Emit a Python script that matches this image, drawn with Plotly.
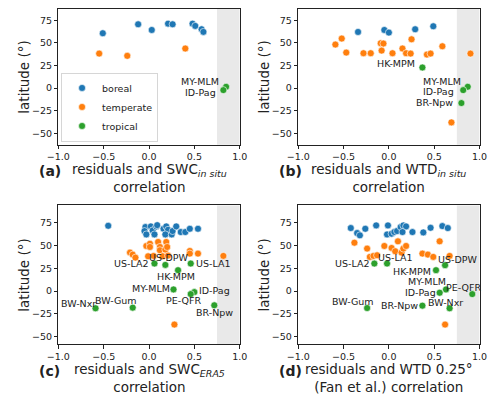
import plotly.graph_objects as go

# ---- (a) residuals vs SWC in situ ----
a_boreal_x = [-0.51, -0.12, 0.03, 0.21, 0.26, 0.48, 0.51, 0.58, 0.60]
a_boreal_y = [60.7, 70.6, 64.3, 71.3, 70.6, 71.3, 68.8, 65.1, 62.2]
a_temperate_x = [-0.55, -0.24, 0.40]
a_temperate_y = [38.2, 35.7, 43.8]
a_sites = ["MY-MLM", "ID-Pag"]
a_tropical_x = [0.85, 0.82]
a_tropical_y = [1.5, -2.2]

# ---- (b) residuals vs WTD in situ ----
b_boreal_x = [-0.34, -0.05, 0.00, 0.29, 0.49]
b_boreal_y = [62.1, 64.3, 61.4, 65.1, 68.4]
b_temperate_x = [-0.59, -0.52, -0.47, -0.28, -0.20, -0.09, -0.06, -0.08, 0.04,
                 0.15, 0.19, 0.24, 0.25, 0.42, 0.46, 0.59, 0.90, 0.69]
b_temperate_y = [48.2, 54.8, 39.3, 38.6, 38.6, 49.6, 49.3, 41.5, 38.6,
                 43.8, 38.6, 38.2, 54.0, 37.1, 38.2, 46.3, 38.2, -37.9]
b_sites = ["HK-MPM", "MY-MLM", "ID-Pag", "BR-Npw"]
b_tropical_x = [0.37, 0.87, 0.82, 0.80]
b_tropical_y = [22.8, 1.5, -2.2, -16.5]

# ---- (c) residuals vs SWC ERA5 ----
c_boreal_x = [-0.45, -0.04, -0.05, -0.03, 0.02, 0.04, 0.06, 0.08, 0.09, 0.16,
              0.19, 0.21, 0.18, 0.25, 0.26, 0.30, 0.35, 0.40, 0.45, 0.54]
c_boreal_y = [71.7, 70.3, 65.9, 62.2, 71.0, 66.6, 62.2, 71.0, 72.4, 68.4,
              71.0, 67.3, 62.2, 62.2, 65.9, 71.0, 64.8, 64.8, 68.4, 68.4]
c_temperate_x = [-0.21, -0.18, -0.15, -0.03, 0.01, 0.01, -0.01, 0.05, 0.10, 0.12,
                 0.12, 0.18, 0.19, 0.20, 0.15, 0.21, 0.45, 0.45, 0.54, 0.82, 0.28]
c_temperate_y = [42.2, 40.0, 36.7, 49.5, 52.0, 48.4, 38.2, 38.6, 53.9, 48.4,
                 44.8, 45.5, 53.9, 48.4, 38.2, 38.9, 44.0, 41.1, 41.1, 38.6, -36.9]
c_sites = ["US-LA2", "US-DPW", "US-LA1", "HK-MPM", "MY-MLM",
           "ID-Pag", "PE-QFR", "BR-Npw", "BW-Nxr", "BW-Gum"]
c_tropical_x = [0.06, 0.18, 0.46, 0.32, 0.27, 0.50, 0.46, 0.72, -0.59, -0.18]
c_tropical_y = [30.2, 28.7, 30.2, 22.9, 1.7, -1.2, -3.4, -15.7, -19.0, -18.3]

# ---- (d) residuals vs WTD 0.25 deg (Fan et al.) ----
d_boreal_x = [-0.42, -0.35, -0.32, -0.26, -0.14, -0.01, -0.02, 0.03, 0.06, 0.09,
              0.13, 0.16, 0.19, 0.15, 0.26, 0.38, 0.46, 0.59, 0.65]
d_boreal_y = [69.2, 63.7, 61.2, 68.4, 72.1, 72.1, 62.2, 63.0, 64.8, 65.9,
              70.3, 72.1, 71.0, 64.8, 64.8, 64.4, 69.5, 71.4, 69.2]
d_temperate_x = [-0.38, -0.24, -0.21, -0.17, -0.13, -0.05, 0.03, 0.07, 0.10,
                 0.14, 0.16, 0.19, 0.37, 0.43, 0.49, 0.56, 0.67, 0.62]
d_temperate_y = [53.1, 46.6, 37.5, 38.6, 39.3, 49.5, 47.3, 43.7, 54.6,
                 42.2, 46.6, 49.5, 41.1, 40.0, 37.5, 54.6, 38.6, -36.9]
d_sites = ["US-LA2", "US-LA1", "US-DPW", "HK-MPM", "MY-MLM",
           "ID-Pag", "PE-QFR", "BW-Gum", "BR-Npw", "BW-Nxr"]
d_tropical_x = [-0.16, -0.02, 0.62, 0.52, 0.63, 0.56, 0.92, -0.24, 0.37, 0.67]
d_tropical_y = [30.2, 30.2, 28.4, 22.9, 1.7, -1.9, -3.4, -18.7, -16.1, -19.0]

COLORS = {"boreal": "#1f77b4", "temperate": "#ff7f0e", "tropical": "#2ca02c"}
FONT = "DejaVu Sans"
TXT = "#222"

# label placement per site: (xanchor, xshift px, yshift px)
LABEL_POS = {
    "a": [("right", -5, 5), ("right", -5, -2)],
    "b": [("right", -5, 4), ("right", -5, 5), ("right", -7, -1), ("right", -6, 1)],
    "c": [("right", -4, 0), ("center", 3, 7), ("left", 3, 0), ("center", -2, -6),
          ("right", -2, 1), ("left", 3, 2), ("center", -7, -6), ("center", 0, -7),
          ("center", -17, 5), ("center", -17, 7)],
    "d": [("right", -3, 0), ("center", 8, 6), ("center", 12, 6), ("right", -3, -1),
          ("center", -19, 8), ("right", -2, 0), ("center", -9, 7), ("center", -14, 7),
          ("right", -2, 0), ("center", -4, 6)],
}

panels = [
    ("a", "x", "y", a_boreal_x, a_boreal_y, a_temperate_x, a_temperate_y,
     a_sites, a_tropical_x, a_tropical_y),
    ("b", "x2", "y2", b_boreal_x, b_boreal_y, b_temperate_x, b_temperate_y,
     b_sites, b_tropical_x, b_tropical_y),
    ("c", "x3", "y3", c_boreal_x, c_boreal_y, c_temperate_x, c_temperate_y,
     c_sites, c_tropical_x, c_tropical_y),
    ("d", "x4", "y4", d_boreal_x, d_boreal_y, d_temperate_x, d_temperate_y,
     d_sites, d_tropical_x, d_tropical_y),
]

xlabels = {
    "a": "residuals and SWC<sub><i>in situ</i></sub><br>correlation",
    "b": "residuals and WTD<sub><i>in situ</i></sub><br>correlation",
    "c": "residuals and SWC<sub><i>ERA5</i></sub><br>correlation",
    "d": "residuals and WTD 0.25°<br>(Fan et al.) correlation",
}

# the page body adds an 8px margin, so the figure is drawn 8px in and shrunk to fit
OFF = 8
W, H = 500 - OFF, 398 - OFF


def px(x):
    return (x - OFF) / W


def py(y):
    return 1 - (y - OFF) / H


fig = go.Figure()
annotations = []
shapes = []

for key, xa, ya, bx, by, tx, ty, sites, gx, gy in panels:
    first = key == "a"
    for name, xs, ys in [("boreal", bx, by), ("temperate", tx, ty), ("tropical", gx, gy)]:
        fig.add_trace(go.Scatter(
            x=xs, y=ys, mode="markers", name=name, xaxis=xa, yaxis=ya,
            showlegend=first, legendgroup=name,
            marker=dict(size=7, color=COLORS[name], line=dict(width=0.6, color="white")),
        ))
    for site, sx, sy, (anc, dx, dy) in zip(sites, gx, gy, LABEL_POS[key]):
        annotations.append(dict(
            x=sx, y=sy, xref=xa, yref=ya, text=site, showarrow=False,
            xanchor=anc, yanchor="middle", xshift=dx, yshift=dy,
            font=dict(size=9.5, color=TXT),
        ))
    # shaded region for high correlation
    shapes.append(dict(
        type="rect", xref=xa, yref=ya + " domain", x0=0.75, x1=1.0, y0=0, y1=1,
        fillcolor="#d3d3d3", opacity=0.5, line=dict(width=0), layer="below",
    ))

col_dom = [[px(48), px(237)], [px(298), px(487)]]
row_dom = [[py(144), py(8)], [py(344), py(205)]]
yranges = [[-62.5, 87.5], [-58.4, 94.0]]

axis_style = dict(
    showline=True, linecolor=TXT, linewidth=0.8, mirror=True,
    ticks="outside", ticklen=3.5, tickwidth=0.8, tickcolor=TXT,
    showgrid=False, zeroline=False, tickfont=dict(size=9.5, color=TXT),
)

layout_axes = {}
for i, (key, xa, ya, *_rest) in enumerate(panels):
    r, c = divmod(i, 2)
    xname = "xaxis" + ("" if i == 0 else str(i + 1))
    yname = "yaxis" + ("" if i == 0 else str(i + 1))
    layout_axes[xname] = dict(axis_style, domain=col_dom[c], range=[-1, 1],
                              tickvals=[-1, -0.5, 0, 0.5, 1], tickformat=".1f",
                              anchor=ya)
    layout_axes[yname] = dict(axis_style, domain=row_dom[r], range=yranges[r],
                              tickvals=[-50, -25, 0, 25, 50, 75], anchor=xa)

    cx = (col_dom[c][0] + col_dom[c][1]) / 2
    annotations.append(dict(
        x=cx, y=py([177, 378][r]), xref="paper", yref="paper", text=xlabels[key],
        showarrow=False, xanchor="center", yanchor="middle",
        font=dict(size=13.5, color=TXT),
    ))
    annotations.append(dict(
        x=px([39, 290][c]), y=py([170, 371][r]), xref="paper", yref="paper",
        text="<b>(" + key + ")</b>", showarrow=False, xanchor="center", yanchor="middle",
        font=dict(size=14, color=TXT),
    ))
    annotations.append(dict(
        x=px([12, 262][c]), y=sum(row_dom[r]) / 2, xref="paper", yref="paper",
        text="latitude (°)", showarrow=False, textangle=-90,
        xanchor="center", yanchor="middle", font=dict(size=13.5, color=TXT),
    ))

fig.update_layout(
    width=W, height=H,
    margin=dict(l=0, r=0, t=0, b=0),
    paper_bgcolor="white", plot_bgcolor="white",
    font=dict(family=FONT, color=TXT),
    annotations=annotations, shapes=shapes,
    legend=dict(
        x=px(51), y=py(141), xanchor="left", yanchor="bottom",
        bgcolor="rgba(255,255,255,0.8)", bordercolor="#ccc", borderwidth=0.8,
        font=dict(size=9.5), itemwidth=30, tracegroupgap=0,
    ),
    **layout_axes,
)

fig.write_html("out.html")
